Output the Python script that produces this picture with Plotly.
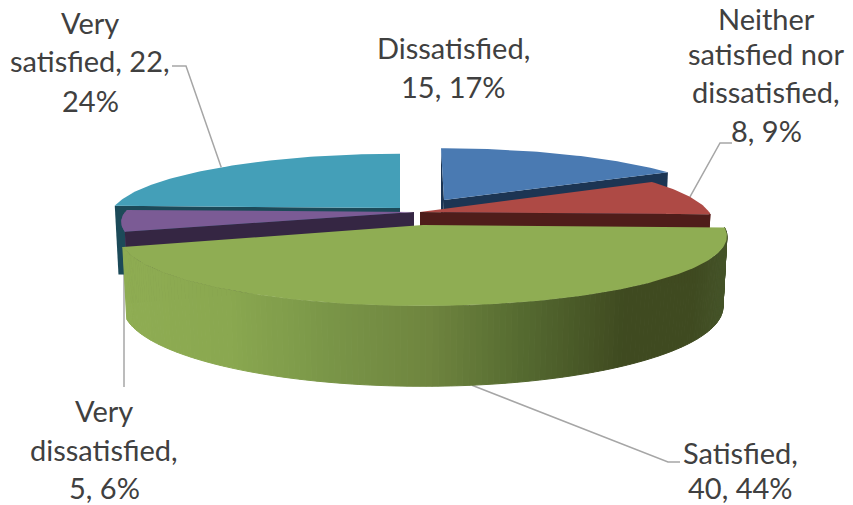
import math
import plotly.graph_objects as go

# ---- data ----
categories = ["Dissatisfied", "Neither satisfied nor dissatisfied", "Satisfied",
              "Very dissatisfied", "Very satisfied"]
values = [15, 8, 40, 5, 22]
percents = [17, 9, 44, 6, 24]

# ---- drawing constants (pixel space of the 853x505 page) ----
WIDTH, HEIGHT = 853, 505
PERSPECTIVE = 0.16
DEPTH = 69
BOTTOM_RY = 1.14
BOTTOM_RX = 0.987
geometry = {                      # cx, cy, rx, ry, apex x shift
    "Dissatisfied": (441, 200, 283, 60, 3),
    "Neither satisfied nor dissatisfied": (420, 212, 289, 65, 0),
    "Satisfied": (423, 225, 300, 68, 0),
    "Very dissatisfied": (414, 212, 289, 61, 0),
    "Very satisfied": (400, 208, 287, 63, 0),
}
top_colors = dict(zip(categories, ["#4a7ab2", "#ae4a45", "#8fad53", "#7b5b95", "#449fb8"]))
face_colors = dict(zip(categories, ["#1c3553", "#4f1d1a", "#3f4a20", "#352643", "#1c4a59"]))
outer_colors = dict(zip(categories, ["#1c3553", "#6e2a26", "#3f4a20", "#6a5085", "#1c4a59"]))
green_stops = [(130, "#8fad53"), (230, "#8aa850"), (330, "#7a9648"), (430, "#6f853f"),
               (520, "#566b31"), (625, "#3f4a20"), (690, "#3f4a20"), (727, "#46552a")]
LEADER = "#a6a6a6"
TEXT = "#404040"
FONT = "Lato"
FONT_SIZE = 29

# label line layout: category -> (centre x, [line y...], [line texts builder])
label_lines = {
    "Very satisfied": (90, [22, 60, 100], ["Very", "satisfied, {v},", "{p}%"]),
    "Dissatisfied": (453, [47, 86], ["Dissatisfied,", "{v}, {p}%"]),
    "Neither satisfied nor dissatisfied": (766, [18, 53, 91, 130],
                                           ["Neither", "satisfied nor", "dissatisfied,", "{v}, {p}%"]),
    "Satisfied": (740, [452, 487], ["Satisfied,", "{v}, {p}%"]),
    "Very dissatisfied": (104, [410, 449, 487], ["Very", "dissatisfied,", "{v}, {p}%"]),
}
leader_elbows = {
    "Very satisfied": [(186, 66), (172, 66)],
    "Neither satisfied nor dissatisfied": [(720, 143), (732, 143)],
    "Satisfied": [(668, 462), (680, 462)],
    "Very dissatisfied": [(124, 387)],
}


def project(name, deg, bottom=False):
    cx, cy, rx, ry, _ = geometry[name]
    if bottom:
        cy, rx, ry = cy + DEPTH, rx * BOTTOM_RX, ry * BOTTOM_RY
    s, c = math.sin(math.radians(deg)), math.cos(math.radians(deg))
    d = 1 + PERSPECTIVE * c
    return cx + rx * s / d, cy - ry * c / d


def apex(name, bottom=False):
    cx, cy, _, _, shift = geometry[name]
    return (cx + (0 if bottom else shift), cy + (DEPTH if bottom else 0))


def hex2rgb(h):
    return tuple(int(h[i:i + 2], 16) for i in (1, 3, 5))


def green_at(x):
    if x <= green_stops[0][0]:
        return green_stops[0][1]
    for (x0, c0), (x1, c1) in zip(green_stops, green_stops[1:]):
        if x <= x1:
            t = (x - x0) / (x1 - x0)
            a, b = hex2rgb(c0), hex2rgb(c1)
            return "rgb(%d,%d,%d)" % tuple(a[i] + (b[i] - a[i]) * t for i in range(3))
    return green_stops[-1][1]


fig = go.Figure()


def poly(points, color, seam=0):
    fig.add_trace(go.Scatter(
        x=[p[0] for p in points] + [points[0][0]],
        y=[p[1] for p in points] + [points[0][1]],
        mode="lines", fill="toself", fillcolor=color,
        line=dict(color=color, width=seam), hoverinfo="skip", showlegend=False))


def arc(a0, a1):
    n = max(2, int(abs(a1 - a0)))
    return [a0 + (a1 - a0) * i / n for i in range(n + 1)]


total = sum(values)
spans = {}
cum = 0
for cat, v in zip(categories, values):
    spans[cat] = (cum / total * 360, (cum + v) / total * 360)
    cum += v

# leader lines sit behind the slices and run from each slice's rim midpoint
for cat, elbows in leader_elbows.items():
    a0, a1 = spans[cat]
    mid = (a0 + a1) / 2
    start = project(cat, mid, bottom=cat == "Satisfied")
    pts = [start] + elbows
    if cat == "Very dissatisfied":
        pts = [(elbows[0][0], start[1])] + elbows
    fig.add_trace(go.Scatter(x=[p[0] for p in pts], y=[p[1] for p in pts], mode="lines",
                             line=dict(color=LEADER, width=1.5), hoverinfo="skip", showlegend=False))


def draw_slice(cat):
    a0, a1 = spans[cat]
    # rim, only where it faces the viewer
    if cat == "Satisfied":
        angs = arc(a0, a1)
        for u, w in zip(angs, angs[1:]):
            p = [project(cat, u), project(cat, w), project(cat, w, True), project(cat, u, True)]
            poly(p, green_at(sum(q[0] for q in p) / 4), seam=1)
    else:
        lo, hi = max(a0, 90), min(a1, 270)
        if hi > lo:
            angs = arc(lo, hi)
            pts = [project(cat, a) for a in angs] + [project(cat, a, True) for a in reversed(angs)]
            poly(pts, outer_colors[cat])
    # cut faces
    if cat == "Dissatisfied":
        poly([project(cat, a0), apex(cat), apex(cat, True)], face_colors[cat])
    if cat in ("Dissatisfied", "Neither satisfied nor dissatisfied"):
        poly([apex(cat), project(cat, a1), project(cat, a1, True), apex(cat, True)], face_colors[cat])
    if cat in ("Very dissatisfied", "Very satisfied"):
        poly([apex(cat), project(cat, a0), project(cat, a0, True), apex(cat, True)], face_colors[cat])
    # top
    poly([apex(cat)] + [project(cat, a) for a in arc(a0, a1)], top_colors[cat])


for cat in ["Very satisfied", "Dissatisfied", "Very dissatisfied",
            "Neither satisfied nor dissatisfied", "Satisfied"]:
    draw_slice(cat)

annotations = []
for cat, v, p in zip(categories, values, percents):
    cx, ys, lines = label_lines[cat]
    for y, line in zip(ys, lines):
        annotations.append(dict(x=cx, y=y, xref="x", yref="y", showarrow=False,
                                text=line.format(v=v, p=p), xanchor="center", yanchor="middle",
                                font=dict(family=FONT, size=FONT_SIZE, color=TEXT)))

fig.update_layout(
    width=WIDTH, height=HEIGHT, autosize=False,
    margin=dict(l=0, r=0, t=0, b=0),
    paper_bgcolor="white", plot_bgcolor="white", showlegend=False,
    xaxis=dict(range=[0, WIDTH], visible=False, fixedrange=True),
    yaxis=dict(range=[HEIGHT, 0], visible=False, fixedrange=True),
    annotations=annotations,
)
fig.write_html("out.html", config={"displayModeBar": False},
               post_script="document.body.style.margin='0';document.documentElement.style.overflow='hidden';")
